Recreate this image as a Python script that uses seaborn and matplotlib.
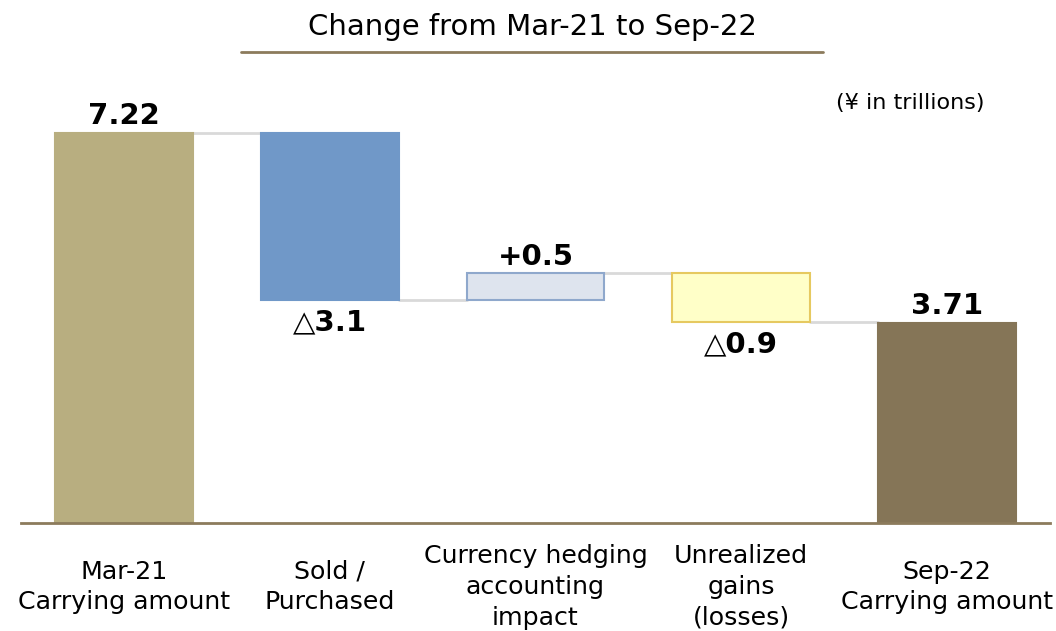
import numpy as np
import pandas as pd
import matplotlib
matplotlib.use("Agg")
import matplotlib.pyplot as plt
from matplotlib.lines import Line2D
import seaborn as sns

# Données du graphique (en billions de yens)
categories = ["Mar-21\nCarrying amount", "Sold /\nPurchased",
              "Currency hedging\naccounting\nimpact", "Unrealized\ngains\n(losses)",
              "Sep-22\nCarrying amount"]
changes = [7.22, -3.1, 0.5, -0.9, 3.71]
is_total = [True, False, False, False, True]
value_labels = ["7.22", "△3.1", "+0.5", "△0.9", "3.71"]

face_colors = ["#B8AE80", "#7098C8", "#DEE4EE", "#FFFFC8", "#857557"]
edge_colors = ["#B8AE80", "#7098C8", "#8FA8CC", "#E6C960", "#857557"]
line_brown = "#8C7B5C"

# Calcul des bases et hauteurs de la cascade
bottoms, heights, running = [], [], 0.0
for v, tot in zip(changes, is_total):
    if tot:
        bottoms.append(0.0)
        heights.append(v)
        running = v
    else:
        lo, hi = sorted([running, running + v])
        bottoms.append(lo)
        heights.append(hi - lo)
        running = running + v
df = pd.DataFrame({"category": categories, "bottom": bottoms, "height": heights})
levels = [changes[0]] + list(np.cumsum(changes[:4])[1:])

sns.set_theme(style="white")
plt.rcParams["font.family"] = ["DejaVu Sans"]
plt.rcParams["text.color"] = "black"
plt.rcParams["xtick.color"] = "black"

fig = plt.figure(figsize=(10.56, 6.31), dpi=100)
ax = fig.add_axes([0.0199, 0.1712, 0.9744, 0.7189])

width = 0.67
sns.barplot(data=df, x="category", y="height", bottom=df["bottom"].values,
            width=width, ax=ax, color="#999999", linewidth=1.5)
for patch, fc, ec in zip(ax.patches, face_colors, edge_colors):
    patch.set_facecolor(fc)
    patch.set_edgecolor(ec)

# Lignes de liaison
for i, lvl in enumerate(levels):
    ax.plot([i + width / 2, i + 1 - width / 2], [lvl, lvl], color="#D9D9D9",
            lw=2, zorder=0)

# Étiquettes de valeurs
for i, (b, h, v, lab) in enumerate(zip(bottoms, heights, changes, value_labels)):
    if v >= 0:
        ax.annotate(lab, (i, b + h), xytext=(0, 2), textcoords="offset points",
                    ha="center", va="bottom", fontsize=21, fontweight="bold",
                    color="black")
    else:
        ax.annotate(lab, (i, b), xytext=(0, -6), textcoords="offset points",
                    ha="center", va="top", fontsize=21, fontweight="bold",
                    color="black")

ax.set_xlim(-0.5, 4.5)
ax.set_ylim(0, 8.4)
ax.set_yticks([])
ax.set_xlabel("")
ax.set_ylabel("")
for s in ["top", "left", "right"]:
    ax.spines[s].set_visible(False)
ax.spines["bottom"].set_color(line_brown)
ax.spines["bottom"].set_linewidth(2)
ax.tick_params(axis="x", length=0, pad=46)
for t in ax.get_xticklabels():
    t.set_fontsize(18.2)
    t.set_color("black")
    t.set_verticalalignment("center")
    t.set_linespacing(1.35)

# Titre et unité
fig.text(0.504, 0.957, "Change from Mar-21 to Sep-22", ha="center", va="center",
         fontsize=21)
fig.add_artist(Line2D([241 / 1056, 823 / 1056], [0.9176, 0.9176], color=line_brown, lw=2))
fig.text(0.862, 0.837, "(¥ in trillions)", ha="center", va="center", fontsize=16)

fig.savefig("out.png", dpi=100)
